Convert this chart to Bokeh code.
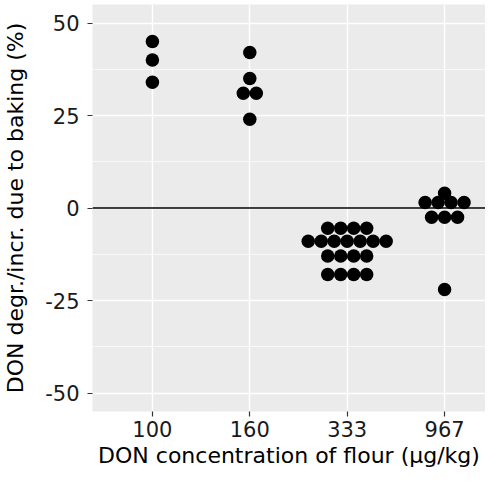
import numpy as np
from bokeh.plotting import figure
from bokeh.models import FixedTicker, Span, ColumnDataSource, Range1d
from bokeh.embed import file_html
from bokeh.resources import INLINE

# ---- data ----
categories = ["100", "160", "333", "967"]
vals_100 = [45, 40, 34]
vals_160 = [42, 35, 31, 31, 24]
vals_333 = [-5.5, -5.5, -5.5, -5.5,
            -9, -9, -9, -9, -9, -9, -9,
            -13, -13, -13, -13,
            -18, -18, -18, -18]
vals_967 = [4, 1.5, 1.5, 1.5, 1.5, -2.5, -2.5, -2.5, -22]
y_ticks = [-50, -25, 0, 25, 50]
y_tick_labels = ["-50", "-25", "0", "25", "50"]
y_minor = [-37.5, -12.5, 12.5, 37.5]

groups = [vals_100, vals_160, vals_333, vals_967]
dot_step = 0.1333  # horizontal spacing of stacked dots, in category units

xs, ys = [], []
for gi, vals in enumerate(groups):
    center = gi + 1
    uniq = sorted(set(vals), reverse=True)
    for u in uniq:
        n = vals.count(u)
        for k in range(n):
            xs.append(center + (k - (n - 1) / 2) * dot_step)
            ys.append(u)

src = ColumnDataSource(dict(x=xs, y=ys))

FONT = "DejaVu Sans"

p = figure(width=485, height=470, output_backend="svg", toolbar_location=None,
           x_range=Range1d(0.385, 4.42), y_range=Range1d(-55, 55),
           min_border_left=88, min_border_top=4, min_border_right=0, min_border_bottom=0)

p.background_fill_color = "#EBEBEB"
p.border_fill_color = "white"
p.outline_line_color = None

p.scatter("x", "y", source=src, size=13.5, fill_color="black", line_color=None)

p.add_layout(Span(location=0, dimension="width", line_color="black", line_width=1.4))

# x axis
p.xaxis.ticker = FixedTicker(ticks=[1, 2, 3, 4])
p.xaxis.major_label_overrides = {i + 1: c for i, c in enumerate(categories)}
p.xgrid.ticker = FixedTicker(ticks=[1, 2, 3, 4])
p.xaxis.axis_label = "DON concentration of flour (µg/kg)"

# y axis
p.yaxis.ticker = FixedTicker(ticks=y_ticks, minor_ticks=y_minor)
p.yaxis.major_label_overrides = {t: l for t, l in zip(y_ticks, y_tick_labels)}
p.ygrid.ticker = FixedTicker(ticks=y_ticks, minor_ticks=y_minor)
p.yaxis.axis_label = "DON degr./incr. due to baking (%)"

for ax in (p.xaxis, p.yaxis):
    ax.axis_line_color = None
    ax.major_tick_line_color = "#333333"
    ax.major_tick_line_width = 1.2
    ax.major_tick_out = 5
    ax.major_tick_in = 0
    ax.minor_tick_line_color = None
    ax.major_label_text_font = FONT
    ax.major_label_text_font_size = "21px"
    ax.major_label_text_color = "#1a1a1a"
    ax.axis_label_text_font = FONT
    ax.axis_label_text_font_size = "22px"
    ax.axis_label_text_font_style = "normal"
    ax.axis_label_text_color = "black"

p.xaxis.major_label_standoff = 4
p.xaxis.axis_label_standoff = 3
p.yaxis.major_label_standoff = 8
p.yaxis.axis_label_standoff = 14

p.xgrid.grid_line_color = "white"
p.xgrid.grid_line_width = 1.4
p.ygrid.grid_line_color = "white"
p.ygrid.grid_line_width = 1.4
p.ygrid.minor_grid_line_color = "white"
p.ygrid.minor_grid_line_width = 0.7

open("out.html", "w").write(file_html(p, INLINE))
